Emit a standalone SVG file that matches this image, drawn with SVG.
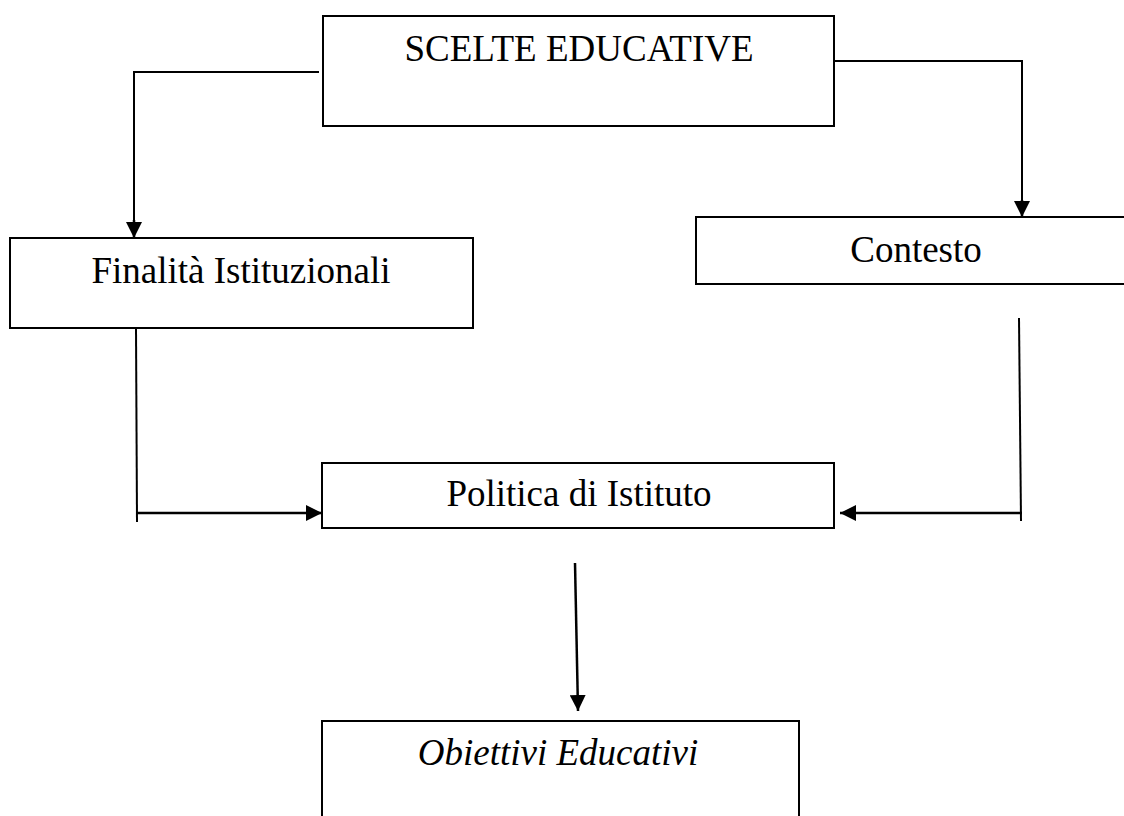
<svg xmlns="http://www.w3.org/2000/svg" width="1124" height="816" viewBox="0 0 1124 816">
  <defs>
    <marker id="arrow" markerUnits="userSpaceOnUse" markerWidth="16" markerHeight="16" refX="16" refY="8" orient="auto" viewBox="0 0 16 16">
      <path d="M0,0 L16,8 L0,16 z" fill="#000"/>
    </marker>
  </defs>
  <style>
    .box { fill: #fff; stroke: #000; stroke-width: 2; }
    .lbl { font-family: "Liberation Serif", "Times New Roman", serif; font-size: 37px; fill: #000; }
    .it { font-style: italic; }
    .line { fill: none; stroke: #000; stroke-width: 2; }
    .arr { fill: none; stroke: #000; stroke-width: 2.5; marker-end: url(#arrow); }
  </style>
  <rect width="1124" height="816" fill="#fff"/>

  <g id="connectors">
    <polyline class="line" points="319,72 134,72 134,225"/>
    <line class="arr" x1="134" y1="220" x2="134" y2="238"/>
    <polyline class="line" points="835,61 1022,61 1022,205"/>
    <line class="arr" x1="1022" y1="200" x2="1022" y2="217"/>
    <line class="line" x1="136" y1="328" x2="137" y2="522"/>
    <line class="arr" x1="137" y1="513" x2="322" y2="513"/>
    <line class="line" x1="1019" y1="318" x2="1021" y2="521"/>
    <line class="arr" x1="1022" y1="513" x2="840" y2="513"/>
    <line class="arr" x1="575" y1="563" x2="578" y2="711"/>
  </g>

  <g id="scelte">
    <rect class="box" x="323" y="16" width="511" height="110"/>
    <text class="lbl" x="579" y="61" text-anchor="middle">SCELTE EDUCATIVE</text>
  </g>
  <g id="finalita">
    <rect class="box" x="10" y="238" width="463" height="90"/>
    <text class="lbl" x="241" y="283" text-anchor="middle">Finalità Istituzionali</text>
  </g>
  <g id="contesto">
    <rect class="box" x="696" y="217" width="440" height="67"/>
    <text class="lbl" x="916" y="262" text-anchor="middle">Contesto</text>
  </g>
  <g id="politica">
    <rect class="box" x="322" y="463" width="512" height="65"/>
    <text class="lbl" x="579" y="506" text-anchor="middle">Politica di Istituto</text>
  </g>
  <g id="obiettivi">
    <rect class="box" x="322" y="721" width="477" height="110"/>
    <text class="lbl it" x="558" y="765" text-anchor="middle">Obiettivi Educativi</text>
  </g>
</svg>
